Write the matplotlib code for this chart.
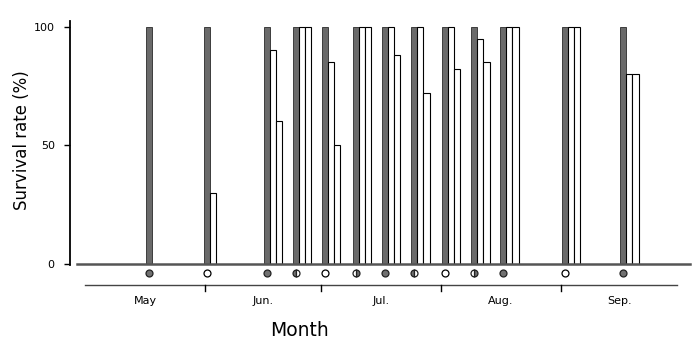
import numpy as np
import matplotlib
matplotlib.use("Agg")
import matplotlib.pyplot as plt

# sampling days, counted from 1 May
sample_day = [16.5, 31.5, 47, 54.5, 62, 70, 77.5, 85, 93, 100.5, 108, 124, 139]
# control (dark bars), always 100 %
control = [100, 100, 100, 100, 100, 100, 100, 100, 100, 100, 100, 100, 100]
# treatment bars (white), nan where no bar
treat_a = [np.nan, 30, 90, 100, 85, 100, 100, 100, 100, 95, 100, 100, 80]
treat_b = [np.nan, np.nan, 60, 100, 50, 100, 88, 72, 82, 85, 100, 100, 80]
# moon phase at each sampling date
phase = ["new", "full", "new", "first", "full", "last", "new",
         "first", "full", "last", "new", "full", "new"]

month_names = ["May", "Jun.", "Jul.", "Aug.", "Sep."]
month_start = [0, 31, 61, 92, 123, 153]

yticks = [0, 50, 100]

w = 1.6

fig = plt.figure(figsize=(6.99, 3.41), dpi=100)
ax = fig.add_axes([0.1001, 0.088, 0.887, 0.851])

x = np.array(sample_day, dtype=float)
ax.bar(x, control, width=w + 0.15, color="#6a6a6a", edgecolor="#2a2a2a",
       linewidth=0.6, zorder=3)
ax.bar(x + w, treat_a, width=w, color="white", edgecolor="black",
       linewidth=0.8, zorder=3)
ax.bar(x + 2 * w, treat_b, width=w, color="white", edgecolor="black",
       linewidth=0.8, zorder=3)

# baseline
ax.plot([-2, 156.3], [0, 0], color="#555555", lw=1.8, zorder=4,
        clip_on=False)

# moon phase symbols
fill = {"new": "full", "full": "none", "first": "left", "last": "right"}
for xi, p in zip(x, phase):
    if p == "full":
        ax.plot(xi, -3.8, "o", ms=5, mfc="white", mec="black", mew=0.9,
                clip_on=False)
    else:
        ax.plot(xi, -3.8, "o", ms=5, fillstyle=fill[p], mfc="#707070",
                mfcalt="white", mec="#222222", mew=0.9, clip_on=False)

# month axis
ax.plot([month_start[0], month_start[-1]], [-8.9, -8.9], color="#444444",
        lw=1.0, clip_on=False)
for b in month_start[1:-1]:
    ax.plot([b, b], [-8.9, -11.5], color="black", lw=1.0, clip_on=False)
for i, name in enumerate(month_names):
    mid = (month_start[i] + month_start[i + 1]) / 2
    ax.text(mid, -15.6, name, ha="center", va="center", fontsize=8)

ax.set_xlim(-3.9, 156.3)
ax.set_ylim(-20, 102.5)
ax.set_yticks(yticks)
ax.set_yticklabels([str(t) for t in yticks], fontsize=8)
ax.tick_params(axis="y", direction="out", length=4, width=1, pad=7)
ax.set_xticks([])
for s in ["top", "right", "bottom"]:
    ax.spines[s].set_visible(False)
ax.spines["left"].set_bounds(-0.4, 102.5)
ax.spines["left"].set_linewidth(1.3)

fig.text(22 / 699, 1 - 140 / 341, "Survival rate (%)", rotation=90,
         ha="center", va="center", fontsize=12)
fig.text(300 / 699, 1 - 330 / 341, "Month", ha="center", va="center",
         fontsize=13.5)

fig.savefig("out.png", dpi=100)
